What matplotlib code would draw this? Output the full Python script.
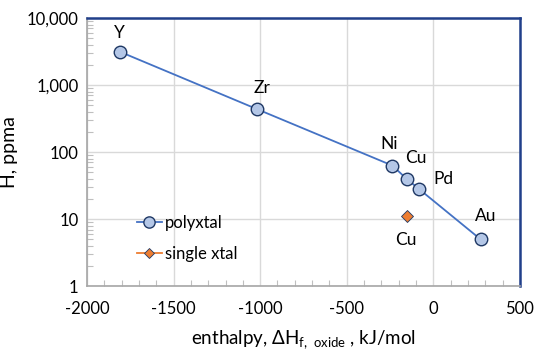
import matplotlib
matplotlib.use("Agg")
import matplotlib.pyplot as plt
from matplotlib.ticker import FixedLocator, LogLocator, NullFormatter, FuncFormatter

plt.rcParams['font.family'] = ['Lato', 'DejaVu Sans']
plt.rcParams['mathtext.default'] = 'regular'
plt.rcParams['axes.unicode_minus'] = False

# data
poly_elements = ["Y", "Zr", "Ni", "Cu", "Pd", "Au"]
poly_enthalpy = [-1810, -1020, -237, -155, -82, 272]
poly_h_ppma = [3150, 440, 63, 40, 28, 5]

single_elements = ["Cu"]
single_enthalpy = [-155]
single_h_ppma = [11]

x_ticks = [-2000, -1500, -1000, -500, 0, 500]
y_ticks = [1, 10, 100, 1000, 10000]

fig = plt.figure(figsize=(5.4, 3.55), dpi=100)
ax = fig.add_axes([0.161, 0.194, 0.802, 0.755])

line_blue = '#4472C4'
face_blue = '#B4C7E7'
edge_navy = '#1F3864'
orange = '#ED7D31'

ax.plot(poly_enthalpy, poly_h_ppma, color=line_blue, lw=1.3, marker='o', ms=9,
        mfc=face_blue, mec=edge_navy, mew=1.0, label='polyxtal', zorder=3)
ax.plot(single_enthalpy, single_h_ppma, color=orange, lw=1.3, marker='D', ms=6,
        mfc=orange, mec=edge_navy, mew=0.6, label='single xtal', zorder=3)

ax.set_yscale('log')
ax.set_xlim(-2000, 500)
ax.set_ylim(1, 10000)
ax.xaxis.set_major_locator(FixedLocator(x_ticks))
ax.yaxis.set_major_locator(FixedLocator(y_ticks))
ax.yaxis.set_major_formatter(FuncFormatter(lambda v, p: f"{int(round(v)):,}"))
ax.xaxis.set_minor_locator(FixedLocator(list(range(-2000, 501, 100))))
ax.yaxis.set_minor_locator(LogLocator(base=10, subs=range(2, 10)))
ax.yaxis.set_minor_formatter(NullFormatter())

ax.grid(True, which='major', color='#D9D9D9', lw=1.0)
ax.set_axisbelow(True)

ax.tick_params(axis='both', which='major', labelsize=12, length=0, pad=6, colors='black')
ax.tick_params(axis='x', which='major', pad=11)
ax.tick_params(axis='both', which='minor', direction='in', length=4, color='#BFBFBF', width=0.8)

for s in ['left', 'bottom']:
    ax.spines[s].set_color('#A6A6A6')
    ax.spines[s].set_linewidth(1.2)
for s in ['top', 'right']:
    ax.spines[s].set_color('#203F8A')
    ax.spines[s].set_linewidth(1.8)

ax.set_ylabel('H, ppma', fontsize=14, labelpad=6)
ax.set_xlabel(r'enthalpy, $\Delta$H$_{f,\ oxide}$ , kJ/mol', fontsize=13.5, labelpad=8)

# point labels (offsets in pixels, baseline anchored)
offsets = {"Y": (0, 14),
           "Zr": (5, 16),
           "Ni": (-3, 17),
           "Cu": (9, 16),
           "Pd": (24, 5),
           "Au": (5, 18)}
for el, xv, yv in zip(poly_elements, poly_enthalpy, poly_h_ppma):
    dx, dy = offsets[el]
    ax.annotate(el, (xv, yv), xytext=(dx, dy), textcoords='offset pixels',
                ha='center', va='baseline', fontsize=12.5)
for el, xv, yv in zip(single_elements, single_enthalpy, single_h_ppma):
    ax.annotate(el, (xv, yv), xytext=(-1, -29), textcoords='offset pixels',
                ha='center', va='baseline', fontsize=12.5)

ax.legend(loc='upper left', bbox_to_anchor=(0.1, 0.29), frameon=False,
          fontsize=12, handlelength=1.5, handletextpad=0.2, labelspacing=0.9,
          borderaxespad=0, markerscale=0.9)

fig.savefig('out.png', dpi=100)
